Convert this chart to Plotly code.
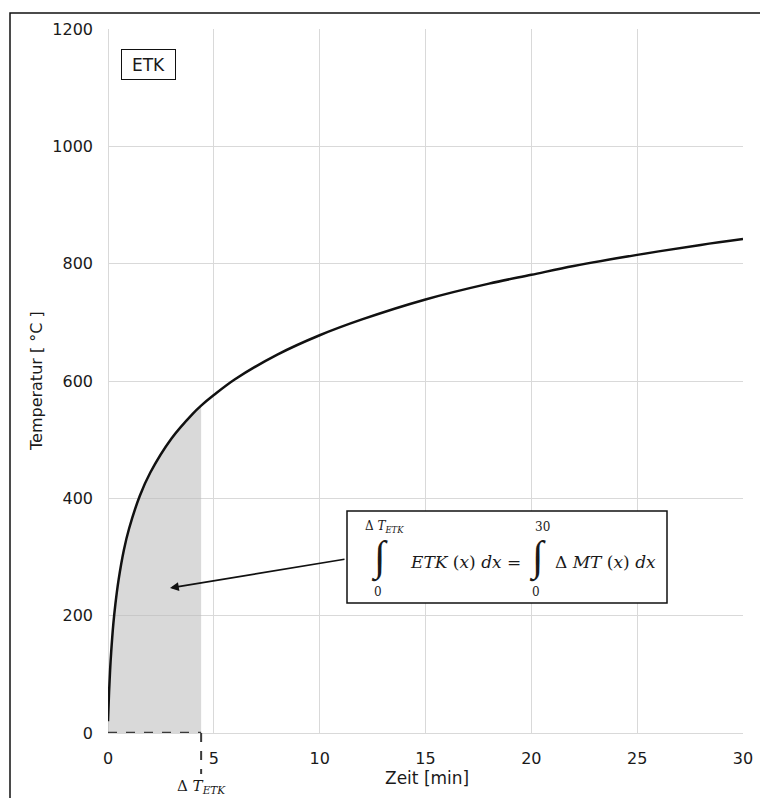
import plotly.graph_objects as go

# ---- data ----
time_min = [0, 0.05, 0.1, 0.15, 0.25, 0.35, 0.5, 0.75, 1, 1.5, 2, 3, 4, 4.4,
            5, 6, 8, 10, 12, 15, 18, 20, 22, 25, 28, 30]
temp_c = [20, 70, 108, 138, 185, 220, 261, 312, 349, 404, 444, 502, 544, 558,
          576, 603, 645, 678, 705, 739, 766, 781, 796, 815, 832, 842]
delta_t_etk = 4.4
x_ticks = [0, 5, 10, 15, 20, 25, 30]
y_ticks = [0, 200, 400, 600, 800, 1000, 1200]
x_range = [0, 30]
y_range = [0, 1200]

# ---- layout geometry (pixels) ----
W, H = 760, 798
ML, MR, MT, MB = 108, 17, 29, 65
PW, PH = W - ML - MR, H - MT - MB


def X(px):
    return (px - ML) / PW * (x_range[1] - x_range[0]) + x_range[0]


def Y(py):
    return (MT + PH - py) / PH * (y_range[1] - y_range[0]) + y_range[0]


def PX(px):
    return (px - ML) / PW


def PY(py):
    return (MT + PH - py) / PH


fill_t = [t for t in time_min if t <= delta_t_etk]
fill_v = [v for t, v in zip(time_min, temp_c) if t <= delta_t_etk]

SANS = "DejaVu Sans"
SERIF = "DejaVu Serif"
INTF = "Liberation Serif"
TXT = "#1a1a1a"
GRID = "#d9d9d9"

fig = go.Figure()
fig.add_trace(go.Scatter(x=fill_t, y=fill_v, mode="lines", line=dict(width=0, shape="spline"),
                         fill="tozeroy", fillcolor="rgba(185,185,185,0.55)",
                         hoverinfo="skip", showlegend=False))
fig.add_trace(go.Scatter(x=[0, delta_t_etk], y=[0, 0], mode="lines",
                         line=dict(color="#3a3a3a", width=2.4, dash="dash"),
                         showlegend=False, hoverinfo="skip", cliponaxis=False))
fig.add_trace(go.Scatter(x=time_min, y=temp_c, mode="lines",
                         line=dict(color="#111111", width=2.5, shape="spline"),
                         showlegend=False))

shapes = [
    dict(type="line", xref="paper", yref="paper", x0=delta_t_etk / 30, x1=delta_t_etk / 30,
         y0=0, y1=PY(774), line=dict(color="#3a3a3a", width=2, dash="dash")),
    dict(type="rect", xref="x", yref="y", x0=X(347), x1=X(667), y0=Y(603), y1=Y(511),
         line=dict(color="#111111", width=1.5), fillcolor="white", layer="above"),
    dict(type="path", xref="paper", yref="paper",
         path=f"M {PX(10)},{PY(810)} L {PX(10)},{PY(13)} L {PX(770)},{PY(13)}",
         line=dict(color="#111111", width=1.5)),
]

ann = []
ann.append(dict(xref="paper", yref="paper", x=PX(148.5), y=PY(64.5), text="ETK",
                xanchor="center", yanchor="middle",
                showarrow=False, font=dict(family=SANS, size=17, color=TXT),
                bordercolor="#111111", borderwidth=1, borderpad=0, width=53, height=29,
                bgcolor="white"))
ann.append(dict(xref="x", yref="y", x=X(170), y=Y(588), ax=X(346), ay=Y(559),
                axref="x", ayref="y", text="", showarrow=True, arrowhead=2,
                arrowsize=1.1, arrowwidth=1.6, arrowcolor="#111111"))
eq = [
    (384, 527, "Δ <i>T</i><sub><i>ETK</i></sub>", 12, SERIF),
    (379, 557, "∫", 42, INTF),
    (378, 592, "0", 12, SERIF),
    (465, 562, "<i>ETK</i> (<i>x</i>) <i>dx</i> =", 17, SERIF),
    (542, 527, "30", 12, SERIF),
    (537, 557, "∫", 42, INTF),
    (536, 592, "0", 12, SERIF),
    (605, 562, "Δ <i>MT</i> (<i>x</i>) <i>dx</i>", 17, SERIF),
]
for px, py, t, s, f in eq:
    ann.append(dict(xref="x", yref="y", x=X(px), y=Y(py), text=t, showarrow=False,
                    xanchor="center", yanchor="middle",
                    font=dict(family=f, size=s, color=TXT)))
ann.append(dict(xref="paper", yref="paper", x=delta_t_etk / 30, y=PY(786),
                text="Δ <i>T</i><sub><i>ETK</i></sub>", showarrow=False,
                xanchor="center", yanchor="middle",
                font=dict(family=SERIF, size=15, color=TXT)))
ann.append(dict(xref="paper", yref="paper", x=PX(427), y=PY(778), text="Zeit [min]",
                showarrow=False, xanchor="center", yanchor="middle",
                font=dict(family=SANS, size=17, color=TXT)))
ann.append(dict(xref="paper", yref="paper", x=PX(36), y=PY(381), text="Temperatur [ °C ]",
                showarrow=False, xanchor="center", yanchor="middle", textangle=-90,
                font=dict(family=SANS, size=16, color=TXT)))

axis_common = dict(showgrid=True, gridcolor=GRID, gridwidth=1.3,
                   zeroline=True, zerolinecolor=GRID, zerolinewidth=1.3, showline=False,
                   ticks="", ticklabelstandoff=14, automargin=False,
                   tickfont=dict(family=SANS, size=16, color=TXT), fixedrange=True)

fig.update_layout(
    width=W, height=H,
    margin=dict(l=ML, r=MR, t=MT, b=MB, autoexpand=False),
    paper_bgcolor="white", plot_bgcolor="white",
    shapes=shapes, annotations=ann,
    showlegend=False,
    xaxis=dict(range=x_range, tickvals=x_ticks, **axis_common),
    yaxis=dict(range=y_range, tickvals=y_ticks, **axis_common),
)

fig.write_html("out.html")
